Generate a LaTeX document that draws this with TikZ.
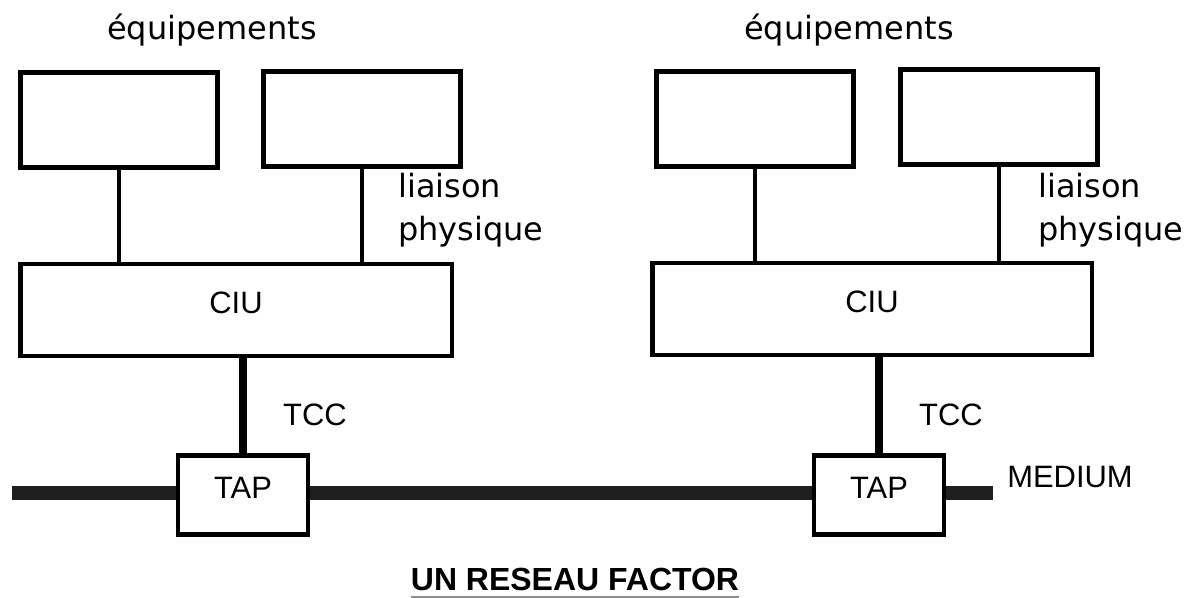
\documentclass[tikz,border=0pt]{standalone}
\usepackage{fontspec}
\setmainfont{Liberation Sans}
\newfontfamily\labfont{DejaVu Sans}
\usepackage{tikz}
\usetikzlibrary{positioning,backgrounds}

\newcommand{\capsize}{\fontsize{17.6}{21}\selectfont}
\newcommand{\wordsize}{\labfont\fontsize{18.2}{24.4}\selectfont}

\tikzset{
  eqbox/.style={draw, line width=2.8pt, minimum width=3.94cm, minimum height=1.9cm, inner sep=0pt},
  ciubox/.style={draw, line width=2.8pt, minimum height=1.84cm, inner sep=0pt, text depth=0.28cm, font=\capsize},
  tapbox/.style={draw, line width=2.8pt, minimum width=2.6cm, minimum height=1.58cm, inner sep=0pt, text depth=0.3cm, font=\capsize},
  link/.style={line width=2.8pt},
  tcc/.style={line width=4pt},
  medium/.style={line width=8pt, black!88},
  lab/.style={inner sep=0pt, font=\capsize},
  wlab/.style={inner sep=0pt, font=\wordsize}
}

\begin{document}
\begin{tikzpicture}[x=0.02cm, y=-0.02cm]
    \useasboundingbox (0,0) rectangle (1197,598);
    \node[wlab, anchor=base] (eqtL) at (212,40) {équipements};
    \node[wlab, anchor=base] (eqtR) at (849,40) {équipements};
    \node[eqbox] (eqA) at (119,120) {};
    \node[eqbox] (eqB) at (362,119) {};
    \node[eqbox] (eqC) at (755,119) {};
    \node[eqbox] (eqD) at (999,117) {};
    \node[ciubox, minimum width=8.64cm] (ciuL) at (236,310) {CIU};
    \node[ciubox, minimum width=8.8cm] (ciuR) at (872,309) {CIU};
    \node[tapbox] (tapL) at (243,495) {TAP};
    \node[tapbox] (tapR) at (879,495) {TAP};
    \node[wlab, anchor=west, align=left] (liaisL) at (398,210) {liaison\\physique};
    \node[wlab, anchor=west, align=left] (liaisR) at (1038,210) {liaison\\physique};
    \node[lab] (tccL) at (315,415) {TCC};
    \node[lab] (tccR) at (951,415) {TCC};
    \node[lab] (med) at (1070,477) {MEDIUM};
    \node[inner sep=0pt, anchor=base, font=\bfseries\fontsize{18.2}{22}\selectfont] (titre) at (575,590) {UN RESEAU FACTOR};
    \coordinate (medA) at (12,493);
    \coordinate (medB) at (993,493);
    \draw[link] (eqA) -- (eqA |- ciuL.north);
    \draw[link] (eqB) -- (eqB |- ciuL.north);
    \draw[link] (eqC) -- (eqC |- ciuR.north);
    \draw[link] (eqD) -- (eqD |- ciuR.north);
    \draw[tcc] (tapL) -- (tapL |- ciuL.south);
    \draw[tcc] (tapR) -- (tapR |- ciuR.south);
    \begin{scope}[on background layer]
        \draw[medium] (medA) -- (tapL.west |- medA);
        \draw[medium] (tapL.east |- medA) -- (tapR.west |- medA);
        \draw[medium] (tapR.east |- medA) -- (medB);
    \end{scope}
    \draw[black!45, line width=0.8pt] ([yshift=-4pt]titre.base west) -- ([yshift=-4pt]titre.base east);
\end{tikzpicture}
\end{document}
